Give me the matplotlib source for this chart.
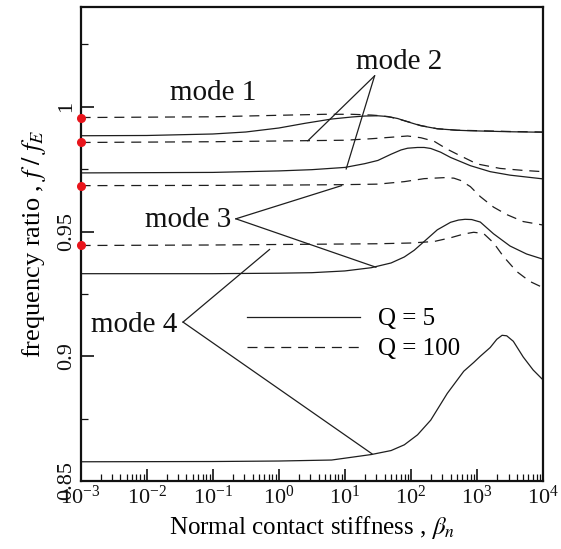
import numpy as np
import matplotlib
matplotlib.use('Agg')
import matplotlib.pyplot as plt
from matplotlib.ticker import LogLocator

plt.rcParams['font.family'] = ['Liberation Serif', 'DejaVu Serif']
plt.rcParams['mathtext.fontset'] = 'stix'

# x values are log10(beta_n), y values are f/f_E
m1_q5_lx = [-3, -2, -1, -0.5, 0, 0.4, 0.8, 1.1, 1.3, 1.5, 1.65, 1.8, 1.95, 2.15, 2.4, 2.7, 2.9, 3.5, 4]
m1_q5 = [.9884, .9885, .9891, .9899, .9915, .9934, .9951, .9959, .9963, .9964, .9961, .9953, .9940, .9924, .9912, .9906, .9904, .9900, .9898]
m1_q100_lx = [-3, -1, 0, 0.7, 1.1, 1.4, 1.55, 1.7, 1.85, 2.0, 2.15, 2.4, 2.7, 2.9, 3.5, 4]
m1_q100 = [.9957, .9960, .9966, .9970, .9970, .9967, .9964, .9958, .9948, .9937, .9925, .9912, .9906, .9905, .9901, .9899]

m2_q5_lx = [-3, -1, 0, 0.5, 1.0, 1.3, 1.5, 1.7, 1.85, 1.95, 2.1, 2.2, 2.3, 2.45, 2.6, 2.9, 3.2, 3.5, 4]
m2_q5 = [.9735, .9737, .9743, .9748, .9757, .9772, .9785, .9810, .9827, .9834, .9837, .9837, .9833, .9818, .9797, .9764, .9740, .9726, .9711]
m2_q100_lx = [-3, -1, 0, 1, 1.4, 1.7, 1.95, 2.15, 2.35, 2.55, 2.7, 3.0, 3.35, 3.7, 4]
m2_q100 = [.9857, .9860, .9863, .9866, .9872, .9878, .9883, .9876, .9862, .9830, .9810, .9771, .9753, .9745, .9740]

m3_q5_lx = [-3, -1, 0, 0.5, 1.0, 1.4, 1.7, 1.9, 2.05, 2.2, 2.4, 2.6, 2.72, 2.82, 2.92, 3.05, 3.25, 3.5, 3.75, 4]
m3_q5 = [.9331, .9331, .9333, .9335, .9342, .9355, .9374, .9398, .9425, .9460, .9507, .9537, .9546, .9549, .9548, .9538, .9491, .9442, .9410, .9389]
m3_q100_lx = [-3, -1, 0, 1, 1.5, 1.9, 2.2, 2.5, 2.65, 2.75, 2.9, 3.05, 3.25, 3.45, 3.7, 4]
m3_q100 = [.9684, .9685, .9686, .9688, .9690, .9700, .9712, .9716, .9714, .9705, .9680, .9640, .9598, .9568, .9540, .9526]

m4_q5_lx = [-3, -1, 0, 0.8, 1.4, 1.7, 1.9, 2.1, 2.3, 2.55, 2.8, 2.95, 3.05, 3.2, 3.3, 3.38, 3.45, 3.55, 3.7, 3.85, 4]
m4_q5 = [.8577, .8578, .8580, .8584, .8606, .8622, .8645, .8685, .8744, .8851, .8940, .8975, .9000, .9035, .9068, .9084, .9082, .9060, .8997, .8945, .8905]
m4_q100_lx = [-3, -1, 0, 1, 1.5, 2.0, 2.35, 2.6, 2.8, 2.95, 3.1, 3.25, 3.4, 3.6, 3.8, 4]
m4_q100 = [.9444, .9446, .9448, .9450, .9451, .9454, .9460, .9475, .9490, .9497, .9492, .9455, .9400, .9340, .9300, .9275]

# markers on the axis at the Q = 100 starting values
dot_y = [.9957, .9857, .9684, .9444]

# mode labels: (text, x, y) and pointer lines (apex -> curve point), in log10 x
labels = [('mode 1', -1.64, 1.0028), ('mode 2', 1.17, 1.0152),
          ('mode 3', -0.72, 0.9517), ('mode 4', -1.54, 0.9097)]
pointers = [((1.45, 1.0124), (0.44, .9864)), ((1.45, 1.0124), (1.02, .9751)),
            ((-0.65, .9551), (0.95, .9684)), ((-0.65, .9551), (1.47, .9357)),
            ((-1.45, .9137), (-0.14, .9428)), ((-1.45, .9137), (1.41, .8609))]

x_decades = [-3, -2, -1, 0, 1, 2, 3, 4]

ink = '#1e1e1e'
dash = (0, (8, 5.5))

fig = plt.figure(figsize=(5.61, 5.49), dpi=100)
ax = fig.add_axes([0.1437, 0.1239, 0.8243, 0.8633])

curves = [(m1_q5_lx, m1_q5, '-'), (m1_q100_lx, m1_q100, dash),
          (m2_q5_lx, m2_q5, '-'), (m2_q100_lx, m2_q100, dash),
          (m3_q5_lx, m3_q5, '-'), (m3_q100_lx, m3_q100, dash),
          (m4_q5_lx, m4_q5, '-'), (m4_q100_lx, m4_q100, dash)]
lines = []
for lx, y, ls in curves:
    ln, = ax.plot(np.power(10.0, lx), y, color=ink, lw=0.9, linestyle=ls)
    lines.append(ln)

ax.plot([1e-3] * len(dot_y), dot_y, 'o', color='#e8141b', ms=5.5,
        clip_on=False, zorder=5)

for (ax0, ay0), (ax1, ay1) in pointers:
    ax.plot([10 ** ax0, 10 ** ax1], [ay0, ay1], color=ink, lw=0.9)

for txt, lx, y in labels:
    ha = 'right' if txt in ('mode 3', 'mode 4') else 'left'
    ax.text(10 ** lx, y, txt, fontsize=21, ha=ha, va='baseline', color='#111')

ax.legend([lines[0], lines[1]], ['Q = 5', 'Q = 100'], loc='upper left',
          bbox_to_anchor=(0.36, 0.365), frameon=False, fontsize=18,
          handlelength=4.5, handletextpad=0.75, labelspacing=0.3,
          borderpad=0, borderaxespad=0)

ax.set_xscale('log')
ax.set_xlim(1e-3, 1e4)
ax.set_xticks(np.power(10.0, x_decades))
ax.xaxis.set_minor_locator(LogLocator(base=10, subs=np.arange(2, 10), numticks=20))
ax.set_ylim(0.85, 1.04)
ax.set_yticks([0.85, 0.9, 0.95, 1.0])
ax.set_yticklabels(['0.85', '0.9', '0.95', '1'], rotation=90, va='center')
ax.set_yticks([0.875, 0.925, 0.975, 1.025], minor=True)

ax.tick_params(which='both', direction='in', top=False, right=False,
               labelsize=16, colors='#111')
ax.tick_params(which='major', length=9, width=1.2)
ax.tick_params(which='minor', length=5, width=0.9)
ax.tick_params(axis='y', pad=3)
ax.tick_params(axis='x', pad=3)
for s in ax.spines.values():
    s.set_linewidth(1.6)
    s.set_color('#111')

ax.set_xlabel(r'Normal contact stiffness , $\beta_n$', fontsize=18, labelpad=4)
ax.set_ylabel(r'frequency ratio , $f\ /\ f_E$', fontsize=19, labelpad=7)

fig.savefig('out.png', dpi=100)
